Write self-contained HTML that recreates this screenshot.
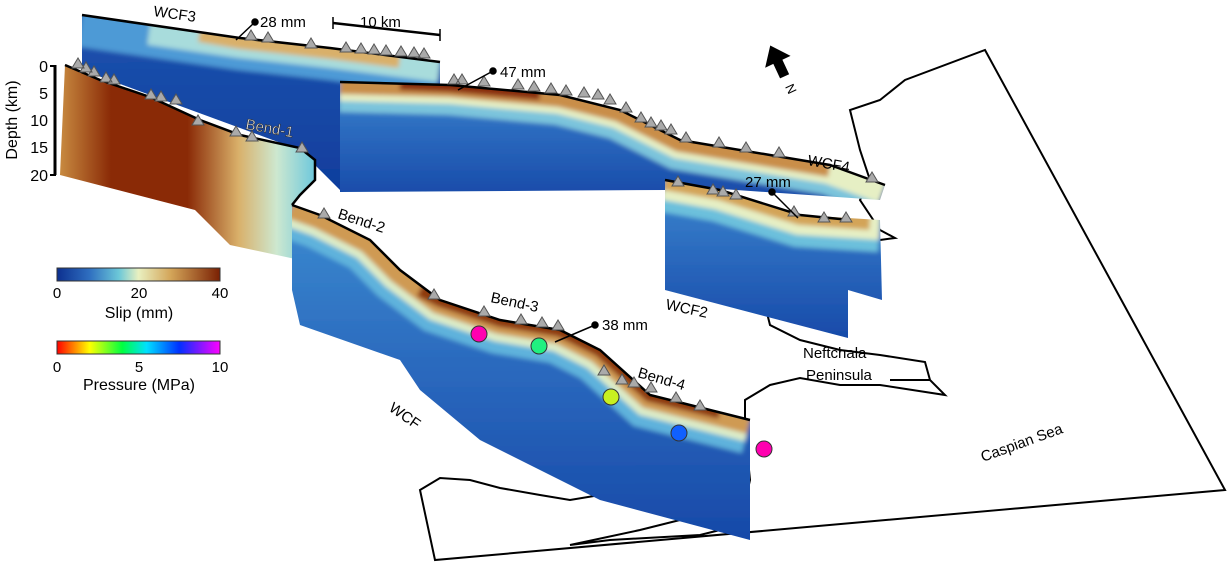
<!DOCTYPE html>
<html><head><meta charset="utf-8"><style>
html,body{margin:0;padding:0;background:#fff;}
svg{display:block;font-family:"Liberation Sans",sans-serif;}
</style></head><body>
<svg width="1229" height="564" viewBox="0 0 1229 564" xmlns="http://www.w3.org/2000/svg">
<defs>
<filter id="bl" x="-10%" y="-10%" width="120%" height="120%"><feGaussianBlur stdDeviation="2.5"/></filter>
<linearGradient id="slip" x1="0" x2="1" y1="0" y2="0">
<stop offset="0" stop-color="#0c2f8f"/><stop offset="0.2" stop-color="#2f6fc0"/><stop offset="0.38" stop-color="#6cc8d8"/><stop offset="0.5" stop-color="#e9f0c0"/><stop offset="0.7" stop-color="#d3a458"/><stop offset="1" stop-color="#7a2003"/>
</linearGradient>
<linearGradient id="pres" x1="0" x2="1" y1="0" y2="0">
<stop offset="0" stop-color="#ff0000"/><stop offset="0.2" stop-color="#ffff00"/><stop offset="0.4" stop-color="#00ff40"/><stop offset="0.55" stop-color="#00e0ff"/><stop offset="0.75" stop-color="#0030ff"/><stop offset="1" stop-color="#ff00ff"/>
</linearGradient>
<linearGradient id="blue" x1="0" x2="0" y1="0" y2="1">
<stop offset="0" stop-color="#3d8fd2"/><stop offset="0.5" stop-color="#2a68bd"/><stop offset="1" stop-color="#1546a6"/>
</linearGradient>
<linearGradient id="dblue" x1="0" x2="0" y1="0" y2="1">
<stop offset="0" stop-color="#1e55b0"/><stop offset="1" stop-color="#0f3c9c"/>
</linearGradient>
<linearGradient id="gb1" x1="0" x2="1" y1="0" y2="0">
<stop offset="0" stop-color="#c88a40"/><stop offset="0.2" stop-color="#8a2a06"/><stop offset="0.5" stop-color="#8a2a06"/><stop offset="0.7" stop-color="#d9b06a"/><stop offset="0.85" stop-color="#cde8d0"/><stop offset="1" stop-color="#6ec8dc"/>
</linearGradient>
<clipPath id="c3"><polygon points="82,15 240,38 440,62 440,85 340,85 340,190 300,150 82,70"/></clipPath>
<clipPath id="c4"><polygon points="340,82 450,85 560,95 620,110 680,140 770,155 830,165 885,185 880,200 665,185 665,190 340,192"/></clipPath>
<clipPath id="c2"><polygon points="665,180 720,190 800,215 880,220 882,300 848,290 848,338 665,290"/></clipPath>
<clipPath id="cw"><polygon points="292,205 320,215 370,240 400,270 440,300 500,320 560,330 600,350 650,395 750,420 750,540 600,500 480,440 420,390 400,360 300,325 292,290"/></clipPath>
</defs>

<path d="M985,50 L1225,490 L435,560 L420,490 L440,478 L470,480 L500,488 L540,495 L570,500 L600,495 L640,498 L670,505 L680,520 L640,530 L570,545 L610,540 L700,535 L740,525 L750,480 L745,430 L745,400 L770,385 L800,378 L840,385 L880,385 L945,395 L930,380 L890,380 L930,380 L925,362 L880,355 L840,350 L800,340 L770,325 L765,305 L780,290 L790,270 L840,250 L880,240 L895,238 L880,230 L860,200 L870,180 L860,150 L850,110 L880,100 L905,80 Z" fill="#fff" stroke="#000" stroke-width="2"/>

<g clip-path="url(#c3)"><g filter="url(#bl)">
<rect x="70" y="0" width="380" height="200" fill="url(#dblue)"/>
<polyline points="82,15 240,38 330,48 440,62" fill="none" stroke="#4d9ad6" stroke-width="64"/>
<polyline points="150,25 240,38 330,48 440,62" fill="none" stroke="#a8dcdc" stroke-width="40"/>
<polyline points="200,31 240,38 330,48 400,57" fill="none" stroke="#d9b06a" stroke-width="22"/>
</g></g>
<polyline points="82,15 240,38 330,48 440,62" fill="none" stroke="#000" stroke-width="2.5"/>

<polygon points="65,65 100,80 150,97 200,120 240,135 300,148 315,160 315,180 292,205 300,260 230,245 195,210 60,175" fill="url(#gb1)"/>
<polyline points="65,65 100,80 150,97 200,120 240,135 300,148 315,160 315,180 300,195 292,205" fill="none" stroke="#000" stroke-width="2.5"/>

<g clip-path="url(#c4)"><g filter="url(#bl)">
<rect x="325" y="65" width="575" height="140" fill="url(#blue)"/>
<polyline points="340,82 450,85 560,95 620,110 680,140 770,155 830,165 885,185" fill="none" stroke="#7cc4dc" stroke-width="60"/>
<polyline points="340,82 450,85 560,95 620,110 680,140 770,155 830,165 885,185" fill="none" stroke="#e6efc4" stroke-width="38"/>
<polyline points="340,82 450,85 560,95 620,110 680,140 770,155 830,165" fill="none" stroke="#c98e48" stroke-width="24"/>
<polyline points="400,83 450,85 540,93 M620,110 680,140 730,150" fill="none" stroke="#8a2e08" stroke-width="14"/>
</g></g>
<polyline points="340,82 450,85 560,95 620,110 680,140 770,155 830,165 885,185" fill="none" stroke="#000" stroke-width="2.5"/>

<g clip-path="url(#c2)"><g filter="url(#bl)">
<rect x="650" y="165" width="245" height="185" fill="url(#blue)"/>
<polyline points="665,180 720,190 800,215 880,220" fill="none" stroke="#6cc0dc" stroke-width="64"/>
<polyline points="665,180 720,190 800,215 880,220" fill="none" stroke="#e6efc4" stroke-width="40"/>
<polyline points="665,180 720,190 800,215 870,220" fill="none" stroke="#d3a458" stroke-width="20"/>
</g></g>
<polyline points="665,180 720,190 800,215 850,220" fill="none" stroke="#000" stroke-width="2.5"/>

<g clip-path="url(#cw)"><g filter="url(#bl)">
<rect x="275" y="190" width="490" height="365" fill="url(#blue)"/>
<polyline points="292,205 320,215 370,240 400,270 440,300 500,320 560,330 600,350 650,395 750,420" fill="none" stroke="#5fb2dc" stroke-width="68"/>
<polyline points="292,205 320,215 370,240 400,270 440,300 500,320 560,330 600,350 650,395 750,420" fill="none" stroke="#dcecc8" stroke-width="44"/>
<polyline points="292,205 320,215 370,240 400,270 440,300 500,320 560,330 600,350 650,395 750,420" fill="none" stroke="#cf9a52" stroke-width="28"/>
<polyline points="420,290 440,300 500,320 560,330 600,350 650,395 720,412" fill="none" stroke="#8e3a0e" stroke-width="14"/>
</g></g>
<polyline points="292,205 320,215 370,240 400,270 440,300 500,320 560,330 600,350 650,395 750,420" fill="none" stroke="#000" stroke-width="2.5"/>

<g fill="#aaa" stroke="#555" stroke-width="1">
<path d="M245,40 l6,-10 l6,10z M262,42 l6,-10 l6,10z M305,48 l6,-10 l6,10z M340,52 l6,-10 l6,10z M355,53 l6,-10 l6,10z M368,54 l6,-10 l6,10z M380,55 l6,-10 l6,10z M395,56 l6,-10 l6,10z M408,57 l6,-10 l6,10z M418,58 l6,-10 l6,10z"/>
<path d="M72,68 l6,-10 l6,10z M80,72 l6,-10 l6,10z M88,76 l6,-10 l6,10z M100,82 l6,-10 l6,10z M108,84 l6,-10 l6,10z M145,99 l6,-10 l6,10z M155,101 l6,-10 l6,10z M170,104 l6,-10 l6,10z M192,125 l6,-10 l6,10z M230,136 l6,-10 l6,10z M246,141 l6,-10 l6,10z M296,152 l6,-10 l6,10z"/>
<path d="M448,84 l6,-10 l6,10z M456,84 l6,-10 l6,10z M478,86 l6,-10 l6,10z M512,89 l6,-10 l6,10z M528,91 l6,-10 l6,10z M545,93 l6,-10 l6,10z M560,95 l6,-10 l6,10z M578,97 l6,-10 l6,10z M592,99 l6,-10 l6,10z M604,104 l6,-10 l6,10z M620,112 l6,-10 l6,10z M635,122 l6,-10 l6,10z M645,127 l6,-10 l6,10z M655,130 l6,-10 l6,10z M665,134 l6,-10 l6,10z M680,142 l6,-10 l6,10z M713,147 l6,-10 l6,10z M740,152 l6,-10 l6,10z M773,157 l6,-10 l6,10z M866,182 l6,-10 l6,10z"/>
<path d="M672,186 l6,-10 l6,10z M707,194 l6,-10 l6,10z M717,196 l6,-10 l6,10z M730,199 l6,-10 l6,10z M788,216 l6,-10 l6,10z M818,222 l6,-10 l6,10z M840,222 l6,-10 l6,10z"/>
<path d="M318,218 l6,-10 l6,10z M428,299 l6,-10 l6,10z M478,316 l6,-10 l6,10z M515,324 l6,-10 l6,10z M536,327 l6,-10 l6,10z M552,330 l6,-10 l6,10z M598,375 l6,-10 l6,10z M616,384 l6,-10 l6,10z M628,387 l6,-10 l6,10z M645,392 l6,-10 l6,10z M670,402 l6,-10 l6,10z M694,410 l6,-10 l6,10z"/>
</g>

<g stroke="#000" stroke-width="1.5" fill="#000">
<line x1="255" y1="22" x2="236" y2="40"/><circle cx="255" cy="22" r="3"/>
<line x1="493" y1="71" x2="458" y2="90"/><circle cx="493" cy="71" r="3"/>
<line x1="595" y1="325" x2="555" y2="342"/><circle cx="595" cy="325" r="3"/>
<line x1="772" y1="192" x2="798" y2="218"/><circle cx="772" cy="192" r="3"/>
<line x1="333" y1="23" x2="440" y2="35" stroke-width="2.5"/>
<line x1="333" y1="17" x2="333" y2="29"/><line x1="440" y1="29" x2="440" y2="41"/>
</g>

<g stroke="#333" stroke-width="1">
<circle cx="479" cy="334" r="8" fill="#ff00b0"/>
<circle cx="539" cy="346" r="8" fill="#20f080"/>
<circle cx="611" cy="397" r="8" fill="#c8f020"/>
<circle cx="679" cy="433" r="8" fill="#1060ff"/>
<circle cx="764" cy="449" r="8" fill="#ff00b0"/>
</g>

<g transform="translate(777,60) rotate(-25)">
<polygon points="0,-16 14,2 5,2 5,18 -5,18 -5,2 -14,2" fill="#000"/>
<text x="0" y="36" font-size="13" text-anchor="middle" transform="rotate(90 0 32)">N</text>
</g>

<line x1="55" y1="65" x2="55" y2="175" stroke="#000" stroke-width="3"/>
<g stroke="#000" stroke-width="2"><line x1="50" y1="66" x2="56" y2="66"/><line x1="50" y1="175" x2="56" y2="175"/></g>
<g font-size="16" text-anchor="end">
<text x="48" y="72">0</text><text x="48" y="99">5</text><text x="48" y="126">10</text><text x="48" y="153">15</text><text x="48" y="181">20</text>
</g>
<text transform="translate(17,120) rotate(-90)" font-size="16" text-anchor="middle">Depth (km)</text>

<rect x="57" y="268" width="163" height="13" fill="url(#slip)" stroke="#333"/>
<g font-size="15" text-anchor="middle"><text x="57" y="298">0</text><text x="139" y="298">20</text><text x="220" y="298">40</text></g>
<text x="139" y="318" font-size="16" text-anchor="middle">Slip (mm)</text>
<rect x="57" y="341" width="163" height="13" fill="url(#pres)" stroke="#333"/>
<g font-size="15" text-anchor="middle"><text x="57" y="372">0</text><text x="139" y="372">5</text><text x="220" y="372">10</text></g>
<text x="139" y="390" font-size="16" text-anchor="middle">Pressure (MPa)</text>

<g font-size="15">
<text x="153" y="16" transform="rotate(8 153 16)">WCF3</text>
<text x="260" y="27">28 mm</text>
<text x="360" y="27">10 km</text>
<text x="500" y="77">47 mm</text>
<text x="245" y="129" transform="rotate(10 245 129)" fill="#fff" stroke="#333" stroke-width="0.6">Bend-1</text>
<text x="337" y="218" transform="rotate(18 337 218)">Bend-2</text>
<text x="490" y="302" transform="rotate(12 490 302)">Bend-3</text>
<text x="602" y="330">38 mm</text>
<text x="637" y="377" transform="rotate(16 637 377)">Bend-4</text>
<text x="388" y="410" transform="rotate(35 388 410)">WCF</text>
<text x="665" y="309" transform="rotate(12 665 309)">WCF2</text>
<text x="807" y="165" transform="rotate(10 807 165)">WCF4</text>
<text x="745" y="187">27 mm</text>
<text x="803" y="358">Neftchala</text>
<text x="806" y="380">Peninsula</text>
<text x="983" y="462" transform="rotate(-20 983 462)">Caspian Sea</text>
</g>
</svg>
</body></html>
